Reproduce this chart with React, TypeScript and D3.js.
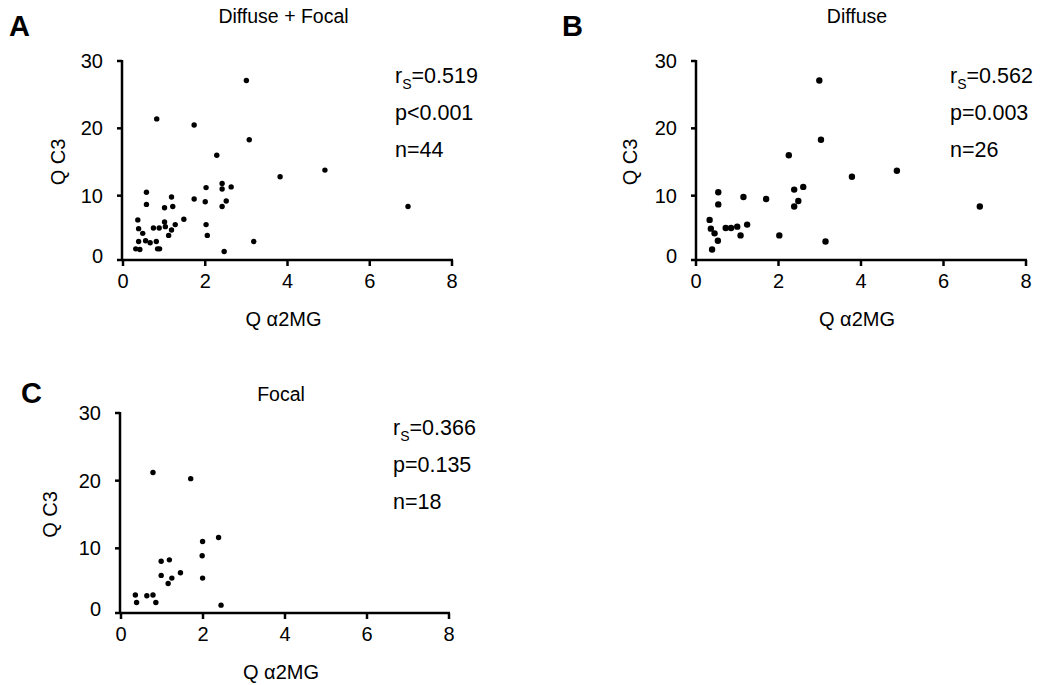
import React from "react";
import * as d3 from "d3";

const xTicks = [0, 2, 4, 6, 8];
const yTicks = [0, 10, 20, 30];

const aX = [3.0, 0.82, 1.73, 3.07, 2.28, 3.82, 0.57, 1.18, 1.73, 2.02, 2.41, 2.41, 2.63, 2.0, 2.51, 2.41, 0.57, 1.01, 1.21, 1.48, 0.36, 1.01, 1.03, 1.27, 1.18, 0.74, 0.88, 0.38, 2.02, 0.48, 1.11, 2.05, 0.38, 0.55, 0.66, 0.81, 3.18, 0.31, 0.41, 0.84, 0.89, 2.46, 6.93, 4.91];
const aY = [27.1, 21.4, 20.5, 18.3, 16.0, 12.8, 10.5, 9.8, 9.5, 11.2, 11.8, 11.0, 11.3, 9.1, 9.2, 8.4, 8.7, 8.2, 8.4, 6.5, 6.4, 6.1, 5.4, 5.7, 4.9, 5.2, 5.2, 5.1, 5.7, 4.4, 4.1, 4.1, 3.2, 3.3, 3.0, 3.2, 3.2, 2.1, 2.0, 2.1, 2.1, 1.7, 8.4, 13.8];

const bX = [2.99, 3.03, 2.25, 3.78, 0.54, 1.15, 1.70, 2.38, 2.60, 0.54, 2.48, 2.38, 0.33, 0.36, 0.45, 0.72, 0.85, 1.0, 1.24, 1.08, 0.53, 0.39, 2.02, 3.14, 6.88, 4.87];
const bY = [27.1, 18.3, 16.0, 12.8, 10.5, 9.8, 9.5, 10.9, 11.3, 8.7, 9.2, 8.4, 6.4, 5.1, 4.4, 5.2, 5.2, 5.4, 5.7, 4.1, 3.3, 2.0, 4.1, 3.2, 8.4, 13.7];

const cX = [0.78, 1.70, 2.38, 1.99, 1.98, 0.98, 1.18, 1.45, 0.98, 1.24, 1.15, 1.99, 0.35, 0.63, 0.78, 0.38, 0.85, 2.44];
const cY = [21.2, 20.3, 11.6, 11.0, 8.9, 8.1, 8.3, 6.4, 6.0, 5.6, 4.8, 5.6, 3.1, 3.0, 3.1, 2.0, 2.0, 1.6];

const titles = ["Diffuse + Focal", "Diffuse", "Focal"];
const letters = ["A", "B", "C"];
const rsVals = ["0.519", "0.562", "0.366"];
const pVals = ["p<0.001", "p=0.003", "p=0.135"];
const nVals = ["n=44", "n=26", "n=18"];

const FONT = "Liberation Sans, Arial, Helvetica, sans-serif";

type PanelProps = {
  xs: number[];
  ys: number[];
  x0: number; x1: number;
  y0: number; y1: number;
  axisX: number; axisY: number;
  r: number;
  idx: number;
  letterX: number; letterY: number;
  titleY: number;
  yLabelX: number;
  statX: number;
};

function Panel(p: PanelProps) {
  const x = d3.scaleLinear().domain([0, 8]).range([p.x0, p.x1]);
  const y = d3.scaleLinear().domain([0, 30]).range([p.y0, p.y1]);
  const cx = (p.x0 + p.x1) / 2;
  const stroke = "#000";
  const sw = 2.5;
  const statY = y(30) + 22;
  return (
    <g>
      <text x={p.letterX} y={p.letterY} fontSize={29} fontWeight="bold" fontFamily={FONT}>{letters[p.idx]}</text>
      <text x={cx - 4} y={p.titleY} fontSize={19.5} textAnchor="middle" fontFamily={FONT}>{titles[p.idx]}</text>
      <line x1={p.axisX} x2={p.axisX} y1={y(30) - 1} y2={p.axisY + 1} stroke={stroke} strokeWidth={sw} />
      <line x1={p.axisX - 5} x2={x(8) + 1} y1={p.axisY} y2={p.axisY} stroke={stroke} strokeWidth={sw} />
      {yTicks.map((t) => (
        <g key={"y" + t}>
          {t > 0 && <line x1={p.axisX - 5} x2={p.axisX} y1={y(t)} y2={y(t)} stroke={stroke} strokeWidth={sw} />}
          <text x={p.axisX - 19} y={t === 0 ? p.axisY - 4 : y(t)} dy="0.35em" fontSize={20} textAnchor="end" fontFamily={FONT}>{t}</text>
        </g>
      ))}
      {xTicks.map((t) => (
        <g key={"x" + t}>
          <line x1={x(t)} x2={x(t)} y1={p.axisY} y2={p.axisY + 6} stroke={stroke} strokeWidth={sw} />
          <text x={x(t)} y={p.axisY + 21} dy="0.35em" fontSize={20} textAnchor="middle" fontFamily={FONT}>{t}</text>
        </g>
      ))}
      <text x={cx - 4} y={p.axisY + 59} fontSize={20} textAnchor="middle" fontFamily={FONT} dy="0.35em">Q α2MG</text>
      <text transform={`translate(${p.yLabelX},${(y(0) + y(30)) / 2}) rotate(-90)`} fontSize={20} textAnchor="middle" fontFamily={FONT} dy="0.35em">Q C3</text>
      {p.xs.map((v, i) => (
        <circle key={i} cx={x(v)} cy={y(p.ys[i])} r={p.r} fill="#000" />
      ))}
      <text x={p.statX} y={statY} fontSize={21.5} fontFamily={FONT}>
        <tspan>r</tspan>
        <tspan fontSize={14} dy={6}>S</tspan>
        <tspan dy={-6}>={rsVals[p.idx]}</tspan>
      </text>
      <text x={p.statX} y={statY + 37} fontSize={21.5} fontFamily={FONT}>{pVals[p.idx]}</text>
      <text x={p.statX} y={statY + 74} fontSize={21.5} fontFamily={FONT}>{nVals[p.idx]}</text>
    </g>
  );
}

export default function App() {
  return (
    <svg width={1047} height={685} style={{ position: "absolute", left: 0, top: 0, background: "#fff" }}>
      <rect width={1047} height={685} fill="#fff" />
      <Panel xs={aX} ys={aY} x0={123} x1={452} y0={263} y1={61} axisX={122} axisY={260} r={2.7} idx={0} letterX={9} letterY={36} titleY={23} yLabelX={58} statX={395} />
      <Panel xs={bX} ys={bY} x0={696} x1={1026} y0={263} y1={61} axisX={696} axisY={260} r={3.2} idx={1} letterX={562} letterY={36} titleY={23} yLabelX={630} statX={950} />
      <Panel xs={cX} ys={cY} x0={121} x1={449} y0={616} y1={413} axisX={120} axisY={613} r={2.7} idx={2} letterX={21} letterY={403} titleY={401} yLabelX={50} statX={393} />
    </svg>
  );
}
